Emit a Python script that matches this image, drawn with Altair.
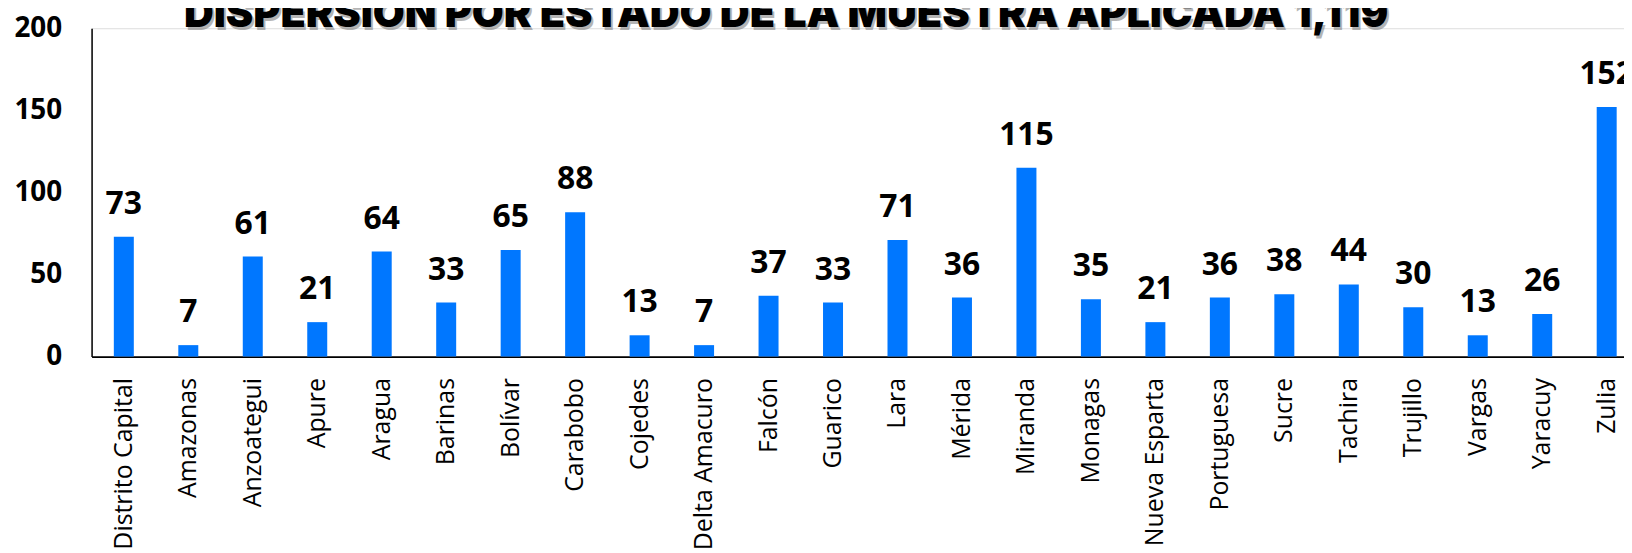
import altair as alt
import pandas as pd

TITLE = "DISPERSION POR ESTADO DE LA MUESTRA APLICADA 1,119"

estados = [
    "Distrito Capital", "Amazonas", "Anzoategui", "Apure", "Aragua", "Barinas",
    "Bolívar", "Carabobo", "Cojedes", "Delta Amacuro", "Falcón", "Guarico",
    "Lara", "Mérida", "Miranda", "Monagas", "Nueva Esparta", "Portuguesa",
    "Sucre", "Tachira", "Trujillo", "Vargas", "Yaracuy", "Zulia",
]
valores = [73, 7, 61, 21, 64, 33, 65, 88, 13, 7, 37, 33, 71, 36, 115, 35, 21, 36, 38, 44, 30, 13, 26, 152]
y_ticks = [0, 50, 100, 150, 200]

df = pd.DataFrame({"estado": estados, "valor": valores})
tdf = pd.DataFrame({"t": [TITLE]})

BLUE = "#0077ff"

x = alt.X(
    "estado:N",
    sort=estados,
    scale=alt.Scale(paddingInner=0.69, paddingOuter=0.345),
    axis=alt.Axis(
        title=None,
        labelAngle=-90,
        labelPadding=21,
        ticks=False,
        labelFont="Open Sans",
        labelFontSize=25,
        labelColor="#000",
        labelLimit=400,
        labelOverlap=False,
        domainColor="#000",
        domainWidth=2,
    ),
)
y = alt.Y(
    "valor:Q",
    scale=alt.Scale(domain=[0, 200], nice=False),
    axis=alt.Axis(
        title=None,
        values=y_ticks,
        grid=False,
        ticks=False,
        labelPadding=30,
        labelFont="Open Sans",
        labelFontWeight="bold",
        labelFontSize=28,
        labelColor="#000",
        domainColor="#000",
        domainWidth=1.5,
    ),
)

base = alt.Chart(df)
bars = base.mark_bar(color=BLUE).encode(x=x, y=y)
labels = base.mark_text(
    font="Open Sans", fontWeight="bold", fontSize=32, color="#000",
    baseline="alphabetic", dy=-23,
).encode(x=alt.X("estado:N", sort=estados), y="valor:Q", text="valor:Q")

shadow = alt.Chart(tdf).mark_text(
    font="Inter", fontWeight=900, fontSize=41.5, color="#777", opacity=0.55,
    baseline="alphabetic", align="center", dx=2, dy=3,
).encode(text="t:N", x=alt.value(698), y=alt.value(-1))
title = alt.Chart(tdf).mark_text(
    font="Inter", fontWeight=900, fontSize=41.5, color="#000",
    baseline="alphabetic", align="center",
).encode(text="t:N", x=alt.value(698), y=alt.value(-1))

chart = alt.layer(bars, labels, shadow, title).properties(
    width=1555,
    height=330,
    padding={"left": 84, "top": 19, "right": -15, "bottom": 196},
    autosize=alt.AutoSizeParams(type="none"),
).configure_view(stroke=None).configure(background="white")

chart.save("out.html", embed_options={"renderer": "svg", "actions": False})
